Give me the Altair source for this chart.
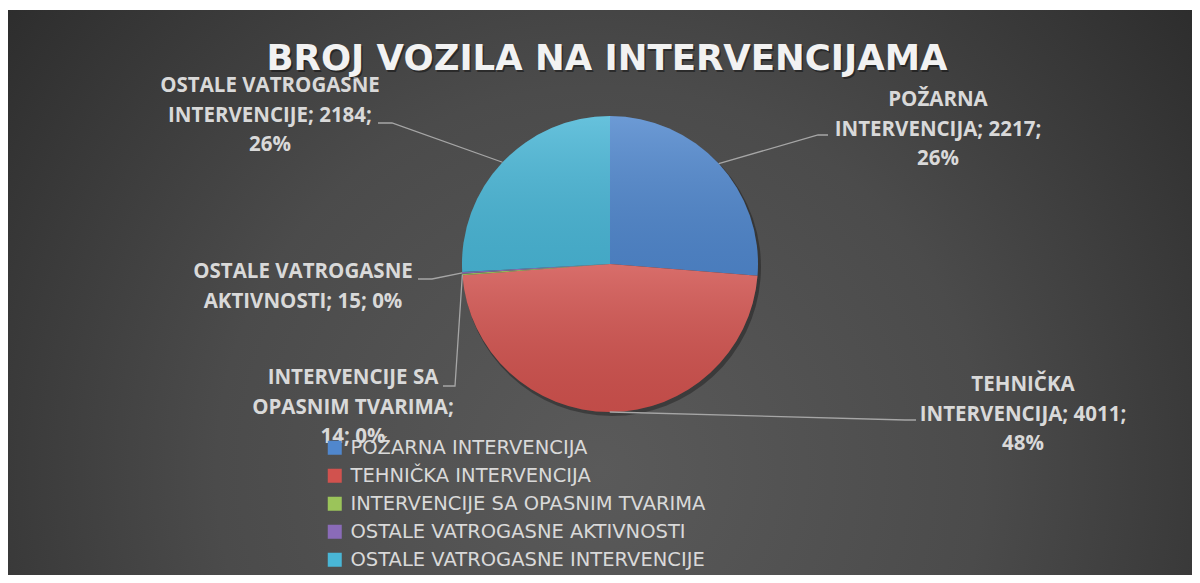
import math
import altair as alt
import pandas as pd

# ---------------- data ----------------
categories = [
    "POŽARNA INTERVENCIJA",
    "TEHNIČKA INTERVENCIJA",
    "INTERVENCIJE SA OPASNIM TVARIMA",
    "OSTALE VATROGASNE AKTIVNOSTI",
    "OSTALE VATROGASNE INTERVENCIJE",
]
values = [2217, 4011, 14, 15, 2184]
colors = ["#5087cd", "#d1524e", "#9bc45a", "#8a6bb8", "#49b6d6"]
label_lines = [
    ["POŽARNA", "INTERVENCIJA; 2217;", "26%"],
    ["TEHNIČKA", "INTERVENCIJA; 4011;", "48%"],
    ["INTERVENCIJE SA", "OPASNIM TVARIMA;", "14; 0%"],
    ["OSTALE VATROGASNE", "AKTIVNOSTI; 15; 0%"],
    ["OSTALE VATROGASNE", "INTERVENCIJE; 2184;", "26%"],
]
title_text = "BROJ VOZILA NA INTERVENCIJAMA"

# ---------------- layout / style ----------------
W, H = 1184, 565
CX, CY, R = 602, 254, 148
# first-line centres of the data labels and leader elbows (plot-area pixels)
label_pos = [(930, 90), (1015, 375), (345, 368), (295, 262), (262, 76)]
leader_elbow = [(810, 125), (897, 410), (447, 376), (424, 269), (384, 113)]
leader_end = [(820, 125), (908, 410), (435, 376), (410, 269), (370, 113)]

total = sum(values)
pie_df = pd.DataFrame({"cat": categories, "value": values, "order": range(len(values))})

# leader lines: start on the pie edge at mid angle of each slice
rows = []
cum = 0
for i, (c, v) in enumerate(zip(categories, values)):
    mid = (cum + v / 2) / total * 2 * math.pi
    cum += v
    sx, sy = CX + R * math.sin(mid), CY - R * math.cos(mid)
    pts = [(sx, sy), leader_elbow[i], leader_end[i]]
    for j, (px, py) in enumerate(pts):
        rows.append({"cat": c, "idx": j, "px": px, "py": py})
lead_df = pd.DataFrame(rows)

lab_df = pd.DataFrame({
    "cat": categories,
    "txt": ["\n".join(l) for l in label_lines],
    "px": [p[0] for p in label_pos],
    "py": [p[1] for p in label_pos],
})

# ---------------- marks ----------------
bg = alt.Chart(pd.DataFrame({"a": [0]})).mark_rect(
    fill=alt.Gradient(
        gradient="radial",
        x1=0.5, y1=0.65, r1=0.0,
        x2=0.5, y2=0.65, r2=0.72,
        stops=[
            alt.GradientStop(offset=0, color="#5a5a5a"),
            alt.GradientStop(offset=0.45, color="#4b4b4b"),
            alt.GradientStop(offset=1, color="#252525"),
        ],
    )
).encode(x=alt.value(0), x2=alt.value(W), y=alt.value(0), y2=alt.value(H))

theta = alt.Theta("value:Q", stack=True)
order = alt.Order("order:Q")

shadow = alt.Chart(pie_df).mark_arc(outerRadius=R + 1, fill="#000000", opacity=0.3).encode(
    theta=theta, order=order, x=alt.value(CX + 2), y=alt.value(CY + 3)
)

slices = alt.Chart(pie_df).mark_arc(outerRadius=R, strokeWidth=0).encode(
    theta=theta,
    order=order,
    x=alt.value(CX),
    y=alt.value(CY),
    color=alt.Color(
        "cat:N",
        scale=alt.Scale(domain=categories, range=colors),
        sort=categories,
        legend=alt.Legend(
            title=None,
            orient="none",
            legendX=317,
            legendY=428,
            symbolType="square",
            symbolSize=196,
            symbolStrokeWidth=0,
            labelFont="DejaVu Sans",
            labelFontSize=19.5,
            labelColor="#d9d9d9",
            labelLimit=600,
            labelOffset=6,
            rowPadding=7,
            padding=0,
        ),
    ),
)

sheen = alt.Chart(pie_df).mark_arc(
    outerRadius=R,
    strokeWidth=0,
    fill=alt.Gradient(
        gradient="linear", x1=0, y1=0, x2=0, y2=1,
        stops=[
            alt.GradientStop(offset=0, color="rgba(255,255,255,0.16)"),
            alt.GradientStop(offset=1, color="rgba(0,0,0,0.08)"),
        ],
    ),
).encode(theta=theta, order=order, x=alt.value(CX), y=alt.value(CY))

leaders = alt.Chart(lead_df).mark_line(color="#a6a6a6", strokeWidth=1.3).encode(
    x=alt.X("px:Q", scale=None),
    y=alt.Y("py:Q", scale=None),
    detail="cat:N",
    order="idx:Q",
)

labels = alt.Chart(lab_df).mark_text(
    font="Open Sans", fontSize=20.5, fontWeight="bold", color="#d9d9d9",
    align="center", baseline="middle", lineBreak="\n", lineHeight=29.5,
).encode(x=alt.X("px:Q", scale=None), y=alt.Y("py:Q", scale=None), text="txt:N")

title_df = pd.DataFrame({"t": [title_text]})
title_shadow = alt.Chart(title_df).mark_text(
    font="DejaVu Sans", fontSize=35.5, fontWeight="bold", color="#000000", opacity=0.4,
    align="center", baseline="alphabetic",
).encode(x=alt.value(600.5), y=alt.value(61.5), text="t:N")
title = alt.Chart(title_df).mark_text(
    font="DejaVu Sans", fontSize=35.5, fontWeight="bold", color="#f2f2f2",
    align="center", baseline="alphabetic",
).encode(x=alt.value(599), y=alt.value(60), text="t:N")

chart = alt.layer(bg, shadow, slices, sheen, leaders, labels, title_shadow, title).properties(
    width=W, height=H,
    autosize=alt.AutoSizeParams(type="none"),
    padding={"top": 2, "left": 0, "right": 0, "bottom": 0},
    background="#ffffff",
).configure_view(stroke=None)

chart.save("out.html", embed_options={"renderer": "svg", "actions": False})
